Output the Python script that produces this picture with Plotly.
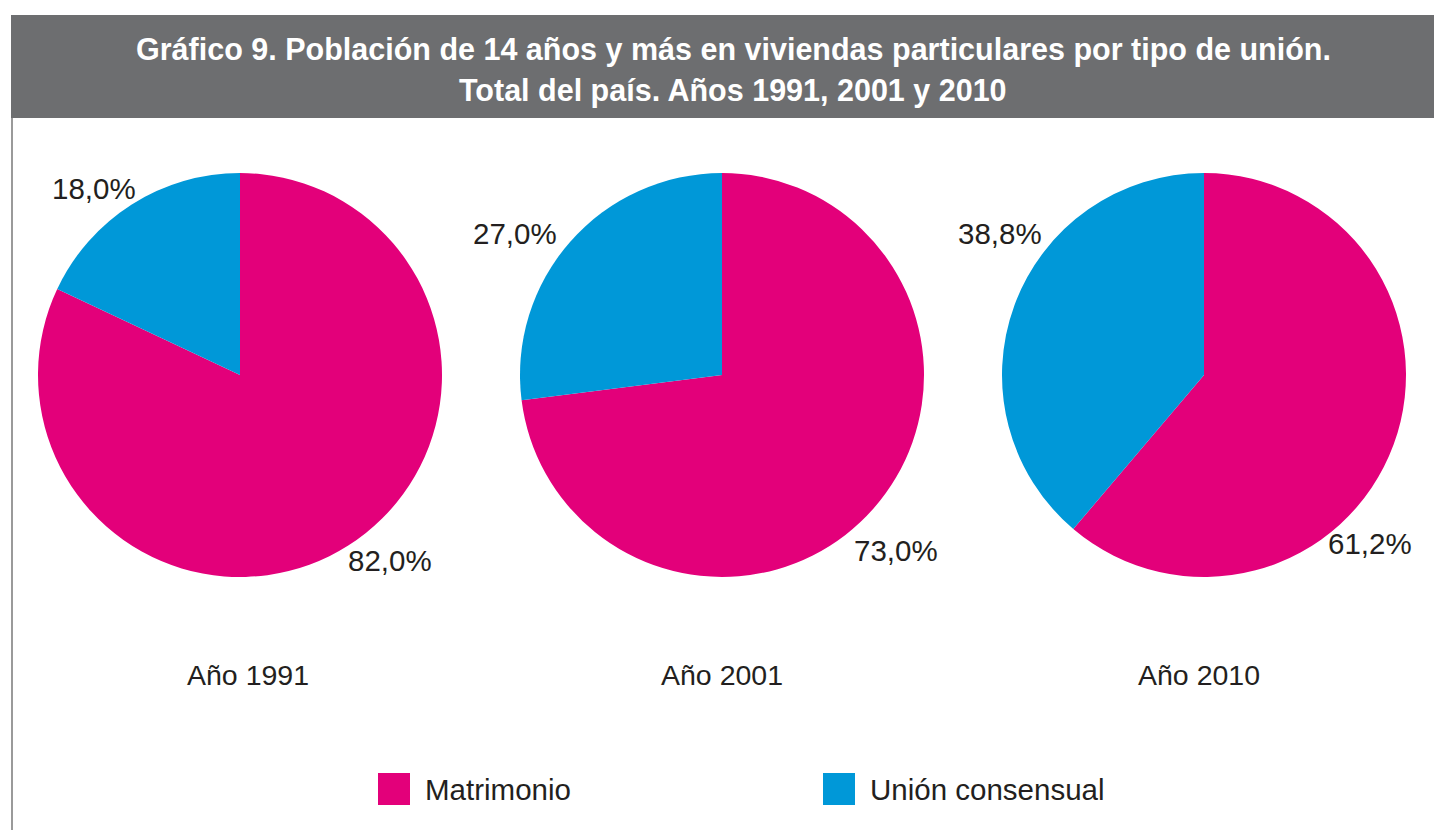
import plotly.graph_objects as go

# Data
years = ["Año 1991", "Año 2001", "Año 2010"]
union_types = ["Matrimonio", "Unión consensual"]
matrimonio = [82.0, 73.0, 61.2]
union_consensual = [18.0, 27.0, 38.8]

# Styling
W, H = 1434, 830
colors = ["#E3007A", "#0098D8"]
text_color = "#231F20"
font_family = "Liberation Sans, Arial, Helvetica, sans-serif"

# Pie geometry in pixels
pie_centers_x = [240, 722, 1204]
pie_center_y = 375
pie_radius = 202
year_label_x = [248, 722, 1199]
year_label_y = 675
# value-label offsets (px) from the pie centre: (matrimonio, union consensual)
label_offsets = [
    [(150, 185), (-146, -187)],
    [(174, 175), (-207, -142)],
    [(166, 168), (-204, -142)],
]


def px_x(x):
    return x / W


def px_y(y):
    return 1 - y / H


def fmt(v):
    return f"{v:.1f}".replace(".", ",") + "%"


fig = go.Figure()
annotations = []
shapes = []

for i, year in enumerate(years):
    cx = pie_centers_x[i]
    vals = [matrimonio[i], union_consensual[i]]
    fig.add_trace(go.Pie(
        labels=union_types,
        values=vals,
        sort=False,
        direction="clockwise",
        rotation=0,
        marker=dict(colors=colors, line=dict(width=0)),
        textinfo="none",
        hoverinfo="label+percent",
        showlegend=False,
        domain=dict(
            x=[px_x(cx - pie_radius), px_x(cx + pie_radius)],
            y=[px_y(pie_center_y + pie_radius), px_y(pie_center_y - pie_radius)],
        ),
    ))
    for v, (dx, dy) in zip(vals, label_offsets[i]):
        annotations.append(dict(
            x=px_x(cx + dx), y=px_y(pie_center_y + dy),
            xref="paper", yref="paper", xanchor="center", yanchor="middle",
            text=fmt(v), showarrow=False,
            font=dict(size=29.5, color=text_color, family=font_family),
        ))
    annotations.append(dict(
        x=px_x(year_label_x[i]), y=px_y(year_label_y),
        xref="paper", yref="paper", xanchor="center", yanchor="middle",
        text=year, showarrow=False,
        font=dict(size=28.5, color=text_color, family=font_family),
    ))

# Header band
shapes.append(dict(
    type="rect", xref="paper", yref="paper",
    x0=px_x(11), x1=1, y0=px_y(118), y1=px_y(15),
    fillcolor="#6D6E70", line=dict(width=0), layer="below",
))
# Left frame line
shapes.append(dict(
    type="line", xref="paper", yref="paper",
    x0=px_x(12), x1=px_x(12), y0=0, y1=px_y(118),
    line=dict(color="#9A9A9A", width=2),
))

title_lines = [
    "Gráfico 9. Población de 14 años y más en viviendas particulares por tipo de unión.",
    "Total del país. Años 1991, 2001 y 2010",
]
for line, y in zip(title_lines, [50, 90]):
    annotations.append(dict(
        x=px_x(733), y=px_y(y), xref="paper", yref="paper",
        xanchor="center", yanchor="middle", text=f"<b>{line}</b>",
        showarrow=False,
        font=dict(size=30.5, color="white", family=font_family),
    ))

# Legend drawn as swatches + text
legend_swatch_x = [378, 823]
legend_y = 789
sw = 32
for name, col, sx in zip(union_types, colors, legend_swatch_x):
    shapes.append(dict(
        type="rect", xref="paper", yref="paper",
        x0=px_x(sx), x1=px_x(sx + sw),
        y0=px_y(legend_y + sw / 2), y1=px_y(legend_y - sw / 2),
        fillcolor=col, line=dict(width=0),
    ))
    annotations.append(dict(
        x=px_x(sx + sw + 13), y=px_y(legend_y), xref="paper", yref="paper",
        xanchor="left", yanchor="middle", text=name, showarrow=False,
        font=dict(size=29.5, color=text_color, family=font_family),
    ))

fig.update_layout(
    width=W, height=H,
    margin=dict(l=0, r=0, t=0, b=0),
    paper_bgcolor="white",
    plot_bgcolor="white",
    annotations=annotations,
    shapes=shapes,
    showlegend=False,
)

fig.write_html("out.html")
